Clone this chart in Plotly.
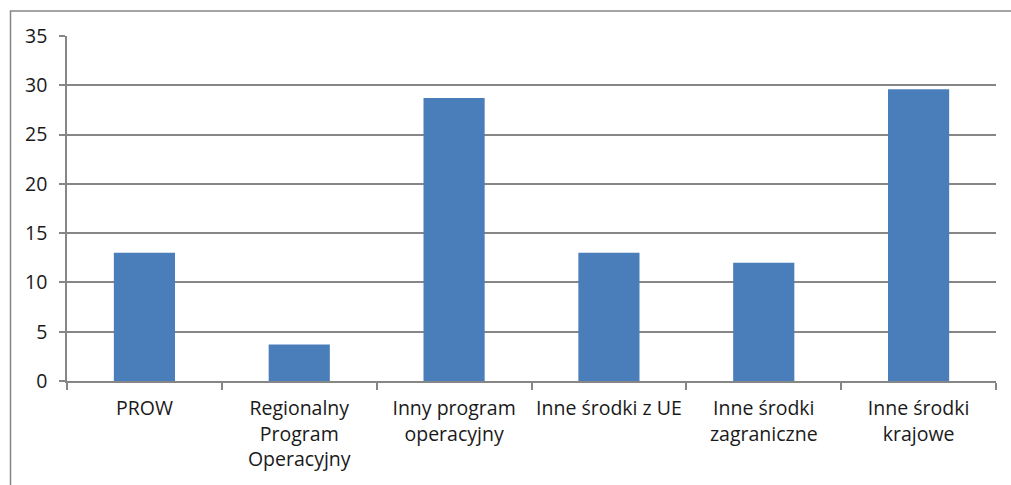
import plotly.graph_objects as go

categories = ["PROW", "Regionalny<br>Program<br>Operacyjny", "Inny program<br>operacyjny",
              "Inne środki z UE", "Inne środki<br>zagraniczne", "Inne środki<br>krajowe"]
values = [13.0, 3.7, 28.7, 13.0, 12.0, 29.6]
y_ticks = [0, 5, 10, 15, 20, 25, 30, 35]

L, R, T, B = 67, 15, 36, 104
W, H = 1011, 485
pw, ph = W - L - R, H - T - B

fig = go.Figure(go.Bar(x=categories, y=values, marker=dict(color="#4a7ebb", line=dict(width=0))))

def px_x(px):
    return (px - L) / pw

def px_y(py):
    return (H - B - py) / ph

fig.add_shape(type="rect", xref="paper", yref="paper",
              x0=px_x(10.5), x1=px_x(1020), y0=px_y(495), y1=px_y(11),
              line=dict(color="#868686", width=1.5), layer="below")

font = dict(family="Open Sans", size=19.5, color="#1a1a1a")
fig.update_layout(
    width=W, height=H, margin=dict(l=L, r=R, t=T, b=B),
    plot_bgcolor="white", paper_bgcolor="white",
    bargap=0.605, showlegend=False, font=font,
    xaxis=dict(type="category", tickson="boundaries", ticks="outside", ticklen=7,
               tickcolor="#868686", tickwidth=1.5, showline=True, linecolor="#868686",
               linewidth=1.5, showgrid=False, tickfont=font, automargin=False,
               ticklabelstandoff=9, tickangle=0),
    yaxis=dict(range=[0, 35], tickvals=y_ticks, ticks="outside", ticklen=6,
               tickcolor="#868686", tickwidth=1.5, showline=True, linecolor="#868686",
               linewidth=1.5, showgrid=True, gridcolor="#868686", gridwidth=1.5,
               zeroline=False, tickfont=font, ticklabelstandoff=8, automargin=False),
)
fig.write_html("out.html", config={"displayModeBar": False},
               post_script="document.body.style.margin='0';document.body.style.overflow='hidden';")
